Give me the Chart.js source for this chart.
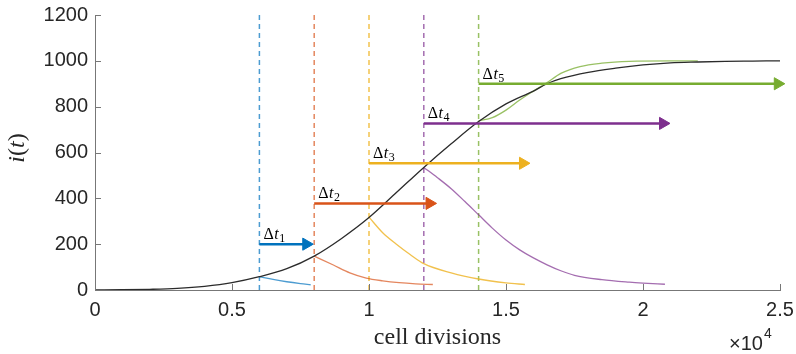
<!DOCTYPE html>
<html>
<head>
<meta charset="utf-8">
<script src="https://cdn.jsdelivr.net/npm/chart.js@4.4.1/dist/chart.umd.min.js"></script>
<style>
  html, body { margin: 0; padding: 0; background: #fff; }
  #wrap { width: 796px; height: 354px; }
</style>
</head>
<body>
<div id="wrap"><canvas id="divChart" width="796" height="354"></canvas></div>
<script>
// data (x in units of 1e4 cell divisions)
const xTicks = [0, 0.5, 1, 1.5, 2, 2.5];
const yTicks = [0, 200, 400, 600, 800, 1000, 1200];

const mainX = [0, 0.1, 0.2, 0.3, 0.4, 0.5, 0.6, 0.7, 0.8, 0.9, 1.0, 1.1, 1.2, 1.3, 1.4, 1.5, 1.6, 1.65, 1.7, 1.8, 1.9, 2.0, 2.1, 2.2, 2.3, 2.4, 2.5];
const mainY = [0, 1, 3, 7, 16, 32, 58, 93, 148, 225, 316, 425, 535, 638, 735, 812, 868, 900, 922, 950, 968, 982, 991, 995, 998, 999, 1000];

const eventX = [0.6, 0.8, 1.0, 1.2, 1.4];
const arrowY = [200, 378, 553, 727, 900];
const arrowEnd = [0.771, 1.221, 1.562, 2.073, 2.492];

const branch1X = [0.6, 0.65, 0.7, 0.75, 0.787];
const branch1Y = [58, 46, 36, 28, 23];
const branch2X = [0.8, 0.87, 0.93, 0.99, 1.05, 1.11, 1.17, 1.233];
const branch2Y = [148, 109, 75, 52, 40, 32, 27, 24];
const branch3X = [1.0, 1.05, 1.1, 1.15, 1.2, 1.3, 1.4, 1.5, 1.569];
const branch3Y = [318, 250, 200, 155, 115, 75, 48, 31, 24];
const branch4X = [1.2, 1.25, 1.3, 1.35, 1.4, 1.45, 1.5, 1.55, 1.6, 1.65, 1.7, 1.75, 1.85, 1.95, 2.0, 2.08];
const branch4Y = [535, 490, 442, 386, 328, 270, 218, 175, 140, 110, 84, 64, 45, 34, 30, 25];
const branch5X = [1.4, 1.45, 1.5, 1.55, 1.6, 1.65, 1.7, 1.77, 1.85, 1.95, 2.1, 2.2];
const branch5Y = [738, 752, 785, 829, 868, 905, 945, 975, 990, 998, 1000, 1000];

const colors = ['#0072BD', '#D95319', '#EDB120', '#7E2F8E', '#77AC30'];
const lightColors = ['rgba(0,114,189,0.7)', 'rgba(217,83,25,0.7)', 'rgba(237,177,32,0.8)', 'rgba(126,47,142,0.7)', 'rgba(119,172,48,0.75)'];

const branchX = [branch1X, branch2X, branch3X, branch4X, branch5X];
const branchY = [branch1Y, branch2Y, branch3Y, branch4Y, branch5Y];

function pts(xs, ys) {
  return xs.map((x, i) => ({ x: x, y: ys[i] }));
}

const datasets = [];

// arrows on top
eventX.forEach((x0, i) => {
  datasets.push({
    data: [{ x: x0, y: arrowY[i] }, { x: arrowEnd[i], y: arrowY[i] }],
    borderColor: colors[i],
    backgroundColor: colors[i],
    borderWidth: 2.5,
    pointRadius: [0, 7],
    pointStyle: 'triangle',
    rotation: 90,
    pointBorderWidth: 1,
    clip: false,
    order: 1
  });
});

datasets.push({
  data: pts(mainX, mainY),
  borderColor: '#2b2b2b',
  borderWidth: 1.3,
  pointRadius: 0,
  cubicInterpolationMode: 'monotone',
  order: 2
});

eventX.forEach((x0, i) => {
  datasets.push({
    data: pts(branchX[i], branchY[i]),
    borderColor: lightColors[i],
    borderWidth: 1.3,
    pointRadius: 0,
    cubicInterpolationMode: 'monotone',
    order: 3
  });
  datasets.push({
    data: [{ x: x0, y: 0 }, { x: x0, y: 1200 }],
    borderColor: lightColors[i],
    borderWidth: 1.5,
    borderDash: [5, 4],
    pointRadius: 0,
    order: 4
  });
});

const axisColor = '#777777';
const textColor = '#262626';

// inward ticks, labels and axis titles
const decorPlugin = {
  id: 'decor',
  afterDraw(chart) {
    const ctx = chart.ctx;
    const xs = chart.scales.x, ys = chart.scales.y;
    const area = chart.chartArea;
    ctx.save();
    ctx.strokeStyle = axisColor;
    ctx.lineWidth = 1;
    ctx.beginPath();
    yTicks.forEach(v => {
      const py = Math.round(ys.getPixelForValue(v)) + 0.5;
      ctx.moveTo(area.left, py);
      ctx.lineTo(area.left + 6, py);
    });
    xTicks.forEach(v => {
      const px = Math.round(xs.getPixelForValue(v)) + 0.5;
      ctx.moveTo(px, area.bottom);
      ctx.lineTo(px, area.bottom - 6);
    });
    ctx.stroke();

    // delta t labels
    ctx.fillStyle = '#000';
    ctx.textBaseline = 'alphabetic';
    eventX.forEach((x0, i) => {
      let px = xs.getPixelForValue(x0) + 4;
      const py = ys.getPixelForValue(arrowY[i]) - 5;
      ctx.font = '16px "Liberation Serif"';
      ctx.fillText('\u0394', px, py);
      px += ctx.measureText('\u0394').width + 0.5;
      ctx.font = 'italic 16px "Liberation Serif"';
      ctx.fillText('t', px, py);
      px += ctx.measureText('t').width + 0.5;
      ctx.font = '12px "Liberation Serif"';
      ctx.fillText(String(i + 1), px, py + 3);
    });

    // x title
    ctx.fillStyle = textColor;
    ctx.font = '24px "Liberation Serif"';
    ctx.textAlign = 'center';
    ctx.fillText('cell divisions', (area.left + area.right) / 2, 344);

    // exponent
    ctx.textAlign = 'left';
    ctx.font = '20px "Liberation Sans"';
    ctx.fillText('\u00d710', 729, 350);
    const ew = ctx.measureText('\u00d710').width;
    ctx.font = '14px "Liberation Sans"';
    ctx.fillText('4', 729 + ew + 1, 338);

    // y title i(t)
    ctx.translate(18, 148);
    ctx.rotate(-Math.PI / 2);
    const parts = [['i', true], ['(', false], ['t', true], [')', false]];
    let w = 0;
    parts.forEach(p => {
      ctx.font = (p[1] ? 'italic ' : '') + '24px "Liberation Serif"';
      w += ctx.measureText(p[0]).width;
    });
    let tx = -w / 2;
    ctx.textBaseline = 'middle';
    parts.forEach(p => {
      ctx.font = (p[1] ? 'italic ' : '') + '24px "Liberation Serif"';
      ctx.fillText(p[0], tx, 0);
      tx += ctx.measureText(p[0]).width;
    });
    ctx.restore();
  }
};

const tickFont = { family: '"Liberation Sans", Arial, sans-serif', size: 20 };

new Chart(document.getElementById('divChart').getContext('2d'), {
  type: 'line',
  data: { datasets: datasets },
  options: {
    responsive: false,
    devicePixelRatio: 1,
    animation: false,
    events: [],
    layout: { padding: { top: 15, right: 16, left: 0, bottom: 0 } },
    plugins: { legend: { display: false }, tooltip: { enabled: false } },
    scales: {
      x: {
        type: 'linear',
        min: 0,
        max: 2.5,
        grid: { display: false, drawTicks: false },
        border: { display: true, color: axisColor, width: 1 },
        ticks: {
          stepSize: 0.5,
          color: textColor,
          font: tickFont,
          padding: 8,
          maxRotation: 0,
          callback: v => String(v)
        },
        afterFit: s => { s.height = 64; s.paddingLeft = 0; s.paddingRight = 0; }
      },
      y: {
        min: 0,
        max: 1200,
        grid: { display: false, drawTicks: false },
        border: { display: true, color: axisColor, width: 1 },
        ticks: {
          stepSize: 200,
          color: textColor,
          font: tickFont,
          padding: 7,
          callback: v => String(v)
        },
        afterFit: s => { s.width = 95; s.paddingTop = 0; s.paddingBottom = 0; }
      }
    }
  },
  plugins: [decorPlugin]
});
</script>
</body>
</html>
